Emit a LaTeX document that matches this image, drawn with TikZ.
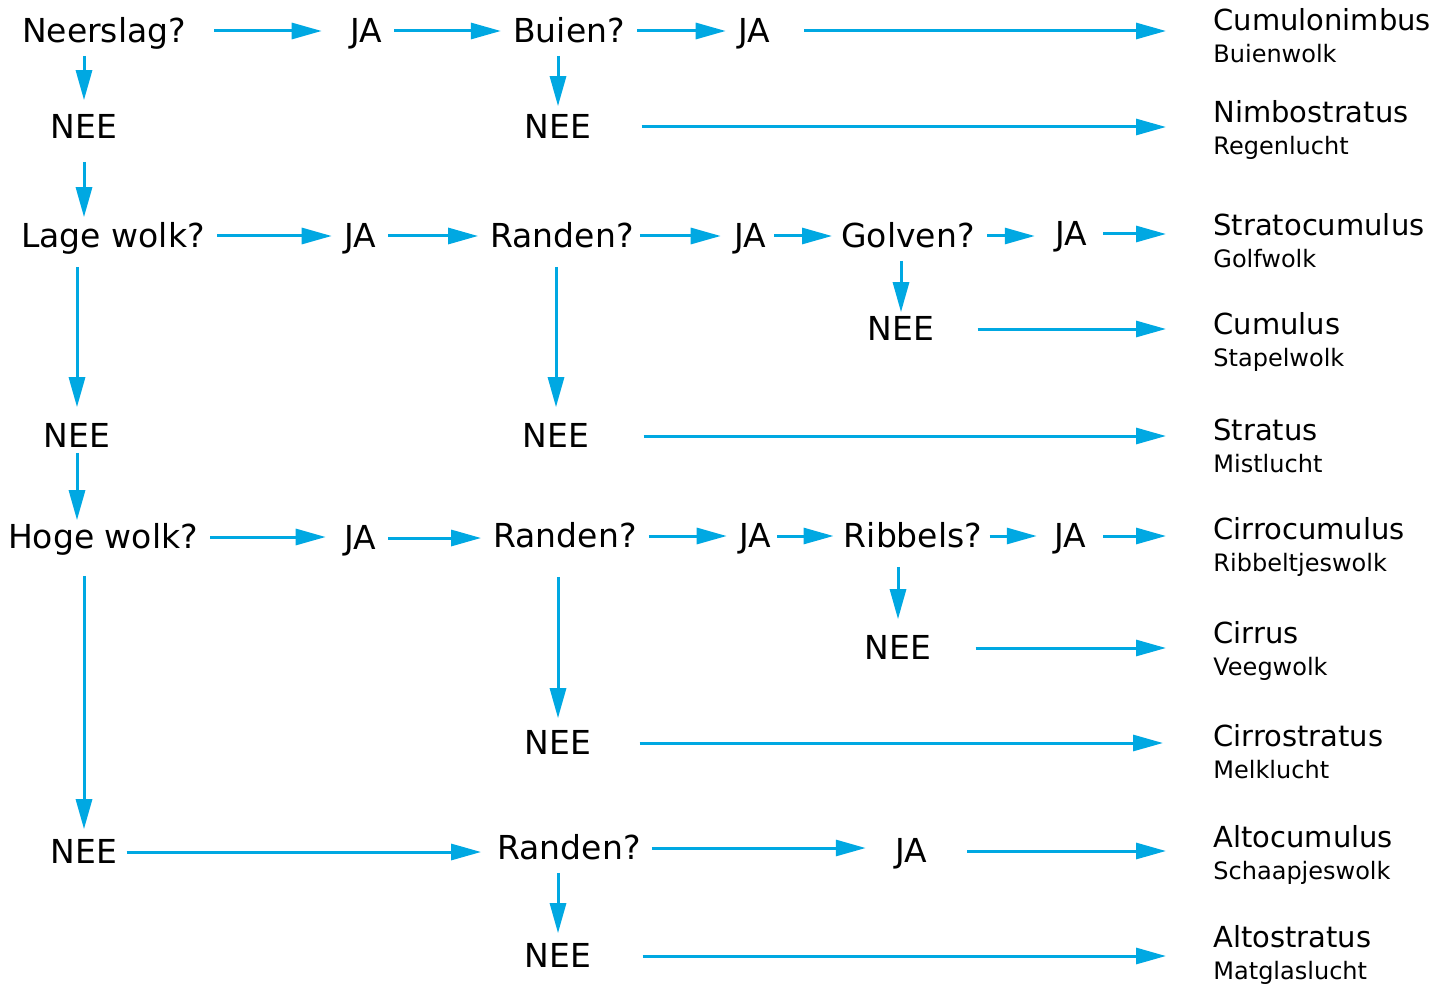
\documentclass[tikz,border=0pt]{standalone}
\usepackage{fontspec}
\setmainfont{DejaVu Sans}
\usetikzlibrary{arrows.meta}
\definecolor{pijlblauw}{RGB}{0,168,226}
\tikzset{
  vraag/.style={inner sep=0pt, text height=14pt, text depth=2.4pt, font=\fontsize{16.5}{19}\selectfont},
  wolk/.style={anchor=west, align=left, inner sep=0pt, text height=, text depth=, font=\fontsize{14.5}{16}\selectfont},
  pijl/.style={draw=pijlblauw, line width=1.5pt, -{Triangle[length=15pt,width=8pt]}, shorten <=6pt, shorten >=6pt},
  naar/.style={pijl, shorten >=23.5pt}
}
\newcommand{\ondertitel}[1]{{\fontsize{12}{16}\selectfont #1}}
\begin{document}
\begin{tikzpicture}[x=0.5pt,y=-0.5pt]
  \useasboundingbox (0,0) rectangle (1444,984);
  \tikzstyle{every node}=[vraag]
  % vragen en antwoorden
  \node (neerslag) at (104,31) {Neerslag?};
  \node (ja1) at (366,31) {JA};
  \node (buien) at (569,31) {Buien?};
  \node (ja2) at (754,31) {JA};
  \node (nee1) at (84,127) {NEE};
  \node (nee2) at (558,127) {NEE};
  \node (lage) at (113,236) {Lage wolk?};
  \node (ja3) at (360,236) {JA};
  \node (randen1) at (562,236) {Randen?};
  \node (ja4) at (750,236) {JA};
  \node (golven) at (908,236) {Golven?};
  \node (ja5) at (1071,234) {JA};
  \node (nee3) at (901,329) {NEE};
  \node (nee4) at (77,436) {NEE};
  \node (nee5) at (556,436) {NEE};
  \node (hoge) at (103,537) {Hoge wolk?};
  \node (ja6) at (360,538) {JA};
  \node (randen2) at (565,536) {Randen?};
  \node (ja7) at (755,536) {JA};
  \node (ribbels) at (913,536) {Ribbels?};
  \node (ja8) at (1070,536) {JA};
  \node (nee6) at (898,648) {NEE};
  \node (nee7) at (558,743) {NEE};
  \node (nee8) at (84,852) {NEE};
  \node (randen3) at (569,848) {Randen?};
  \node (ja9) at (911,851) {JA};
  \node (nee9) at (558,956) {NEE};
  % wolkensoorten
  \node[wolk] (cumulonimbus) at (1213,36) {Cumulonimbus\\\ondertitel{Buienwolk}};
  \node[wolk] (nimbostratus) at (1213,130) {Nimbostratus\\\ondertitel{Regenlucht}};
  \node[wolk] (stratocumulus) at (1213,241) {Stratocumulus\\\ondertitel{Golfwolk}};
  \node[wolk] (cumulus) at (1213,342) {Cumulus\\\ondertitel{Stapelwolk}};
  \node[wolk] (stratus) at (1213,446) {Stratus\\\ondertitel{Mistlucht}};
  \node[wolk] (cirrocumulus) at (1213,547) {Cirrocumulus\\\ondertitel{Ribbeltjeswolk}};
  \node[wolk] (cirrus) at (1213,651) {Cirrus\\\ondertitel{Veegwolk}};
  \node[wolk] (cirrostratus) at (1213,752) {Cirrostratus\\\ondertitel{Melklucht}};
  \node[wolk] (altocumulus) at (1213,855) {Altocumulus\\\ondertitel{Schaapjeswolk}};
  \node[wolk] (altostratus) at (1213,955) {Altostratus\\\ondertitel{Matglaslucht}};
  % neerslag
  \draw[pijl, shorten <=14pt, shorten >=14pt] (neerslag.east) -- (neerslag.east -| ja1.west);
  \draw[pijl] (ja1.east) -- (ja1.east -| buien.west);
  \draw[pijl] (buien.east) -- (buien.east -| ja2.west);
  \draw[naar, shorten <=17pt] (ja2.east) -- (ja2.east -| cumulonimbus.west);
  \draw[pijl, shorten <=4pt, shorten >=5pt] (nee1 |- neerslag.south) -- (nee1.north);
  \draw[pijl, shorten <=4pt, shorten >=2pt] (nee2 |- buien.south) -- (nee2.north);
  \draw[naar, shorten <=25pt] (nee2.east) -- (nee2.east -| nimbostratus.west);
  \draw[pijl, shorten <=9pt, shorten >=1pt] (nee1.south -| nee1) -- (nee1 |- lage.north);
  % lage wolk
  \draw[pijl] (lage.east) -- (lage.east -| ja3.west);
  \draw[pijl] (ja3.east) -- (ja3.east -| randen1.west);
  \draw[pijl, shorten <=3pt, shorten >=6.5pt] (randen1.east) -- (randen1.east -| ja4.west);
  \draw[pijl, shorten <=4pt, shorten >=4.5pt] (ja4.east) -- (ja4.east -| golven.west);
  \draw[pijl, shorten >=10pt] (golven.east) -- (golven.east -| ja5.west);
  \draw[naar, shorten <=8pt] (ja5.east) -- (ja5.east -| stratocumulus.west);
  \draw[pijl, shorten <=4pt, shorten >=0pt] (nee3 |- golven.south) -- (nee3.north);
  \draw[naar, shorten <=21.5pt] (nee3.east) -- (nee3.east -| cumulus.west);
  \draw[pijl, shorten <=7pt] (nee4 |- lage.south) -- (nee4.north);
  \draw[pijl, shorten <=7pt] (nee5 |- randen1.south) -- (nee5.north);
  \draw[naar, shorten <=27pt] (nee5.east) -- (nee5.east -| stratus.west);
  \draw[pijl, shorten <=0pt, shorten >=0pt] (nee4.south -| nee4) -- (nee4 |- hoge.north);
  % hoge wolk
  \draw[pijl, shorten >=9pt] (hoge.east) -- (hoge.east -| ja6.west);
  \draw[pijl] (ja6.east) -- (ja6.east -| randen2.west);
  \draw[pijl] (randen2.east) -- (randen2.east -| ja7.west);
  \draw[pijl, shorten <=3pt, shorten >=5pt] (ja7.east) -- (ja7.east -| ribbels.west);
  \draw[pijl, shorten <=3.5pt, shorten >=8.5pt] (ribbels.east) -- (ribbels.east -| ja8.west);
  \draw[naar, shorten <=8.5pt] (ja8.east) -- (ja8.east -| cirrocumulus.west);
  \draw[pijl, shorten <=7pt] (nee6 |- ribbels.south) -- (nee6.north);
  \draw[naar, shorten <=22pt] (nee6.east) -- (nee6.east -| cirrus.west);
  \draw[pijl, shorten <=12pt, shorten >=4pt] (nee7 |- randen2.south) -- (nee7.north);
  \draw[naar, shorten <=24pt, shorten >=25pt] (nee7.east) -- (nee7.east -| cirrostratus.west);
  \draw[pijl, shorten <=11pt, shorten >=3pt] (nee8 |- hoge.south) -- (nee8.north);
  \draw[pijl, shorten <=4.5pt, shorten >=8pt] (nee8.east) -- (nee8.east -| randen3.west);
  \draw[pijl, shorten <=5.5pt, shorten >=14.5pt] (randen3.east) -- (randen3.east -| ja9.west);
  \draw[naar, shorten <=20pt] (ja9.east) -- (ja9.east -| altocumulus.west);
  \draw[pijl, shorten <=4pt, shorten >=3pt] (nee9 |- randen3.south) -- (nee9.north);
  \draw[naar, shorten <=25.5pt] (nee9.east) -- (nee9.east -| altostratus.west);
\end{tikzpicture}
\end{document}
